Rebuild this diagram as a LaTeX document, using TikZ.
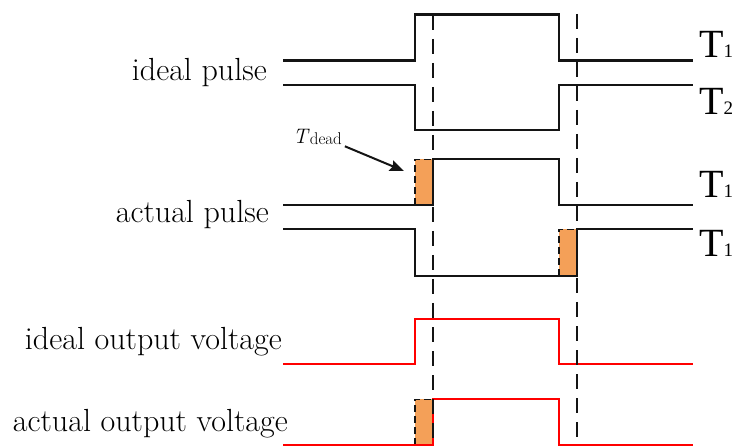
\documentclass[tikz,border=0pt]{standalone}
\usepackage{fontspec}
\usetikzlibrary{arrows.meta, positioning}
\newfontfamily\tfont{Liberation Serif}
\definecolor{deadorange}{RGB}{244, 160, 88}
\definecolor{outred}{RGB}{255, 0, 0}
\definecolor{ink}{RGB}{20, 20, 20}

\begin{document}
\begin{tikzpicture}[
    x=1pt, y=-1pt,
    sig/.style    = {draw=ink, line width=2.1pt, line join=miter},
    outsig/.style = {draw=outred, line width=2.1pt, line join=miter},
    guide/.style  = {draw=ink, line width=2.1pt, dash pattern=on 15pt off 9pt},
    dead/.style   = {fill=deadorange},
    deadedge/.style = {draw=ink, line width=1.3pt, dash pattern=on 7pt off 4pt},
    lbl/.style    = {font=\fontsize{32}{37}\selectfont, anchor=base east, inner sep=0pt},
    tlbl/.style   = {font=\tfont\fontsize{40}{44}\selectfont, anchor=base west, inner sep=0pt},
    arr/.style    = {-{Stealth[length=14pt, width=11pt, inset=2pt]}, draw=ink, line width=2pt, shorten <=3pt},
  ]
    \useasboundingbox (0,0) rectangle (736,446);

    \def\xa{283}  % start of signals
    \def\xr{415}  % ideal edge 1
    \def\xd{433}  % delayed edge 1
    \def\xf{559}  % ideal edge 2
    \def\xg{577}  % delayed edge 2
    \def\xe{693}  % end of signals

    % ── dead-time zones ──
    \fill[dead] (\xr,159.3) rectangle (\xd,205);
    \fill[dead] (\xf,229.3) rectangle (\xg,276);
    \fill[dead] (\xr,399.3) rectangle (\xd,445);
    \draw[deadedge] (\xr,205) -- (\xr,159.3) -- (\xd,159.3);
    \draw[deadedge] (\xf,276) -- (\xf,229.3) -- (\xg,229.3);
    \draw[deadedge] (\xr,445) -- (\xr,399.3) -- (\xd,399.3);
    \coordinate (dzt) at (404,171);

    % ── ideal pulse ──
    \draw[sig] (\xa,60.5) -- (\xr,60.5) -- (\xr,14.5) -- (\xf,14.5) -- (\xf,60.5) -- (\xe,60.5);
    \draw[sig] (\xa,85) -- (\xr,85) -- (\xr,130) -- (\xf,130) -- (\xf,85) -- (\xe,85);

    % ── actual pulse ──
    \draw[sig] (\xa,205) -- (\xd,205) -- (\xd,159.3) -- (\xf,159.3) -- (\xf,205) -- (\xe,205);
    \draw[sig] (\xa,229.3) -- (\xr,229.3) -- (\xr,276) -- (\xg,276) -- (\xg,229.3) -- (\xe,229.3);

    % ── output voltage ──
    \draw[outsig] (\xa,364.3) -- (\xr,364.3) -- (\xr,319) -- (\xf,319) -- (\xf,364.3) -- (\xe,364.3);
    \draw[outsig] (\xa,445) -- (\xd,445) -- (\xd,399.3) -- (\xf,399.3) -- (\xf,445) -- (\xe,445);

    % ── guide lines ──
    \draw[guide] (\xd,15) -- (\xd,446);
    \draw[guide] (\xg,14) -- (\xg,446);

    % ── labels ──
    \node[lbl] (lip) at (267,80.7)  {ideal pulse};
    \node[lbl] (lap) at (269,223)   {actual pulse};
    \node[lbl] (liv) at (282,349)   {ideal output voltage};
    \node[lbl] (lav) at (288,431.7) {actual output voltage};

    \node[tlbl] (ta) at (699,57.3) {T{\fontsize{19}{20}\selectfont 1}};
    \node[tlbl] (tb) at (699,115)  {T{\fontsize{19}{20}\selectfont 2}};
    \node[tlbl] (tc) at (699,198)  {T{\fontsize{19}{20}\selectfont 1}};
    \node[tlbl] (td) at (699,257)  {T{\fontsize{19}{20}\selectfont 1}};

    \node[font=\fontsize{21}{24}\selectfont, anchor=base west, inner sep=0pt] (tdead) at (293,143.3)
      {\textit{T}\raisebox{-1.5pt}{\fontsize{17}{18}\selectfont dead}};
    \draw[arr] (tdead.south east) -- (dzt);

  \end{tikzpicture}
\end{document}
